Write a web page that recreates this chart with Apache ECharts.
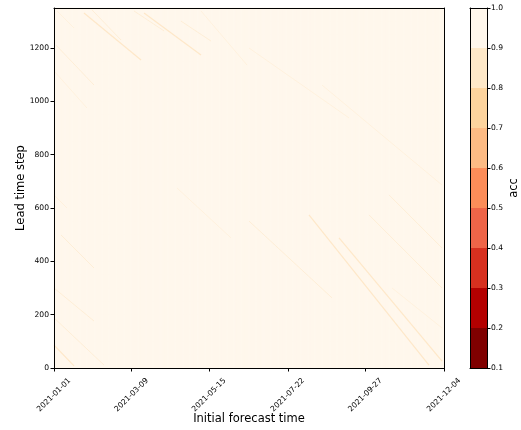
<!DOCTYPE html>
<html><head><meta charset="utf-8">
<script src="https://cdn.jsdelivr.net/npm/echarts@6/dist/echarts.min.js"></script>
<style>html,body{margin:0;padding:0;background:#fff}#c{width:521px;height:430px}</style>
</head><body><div id="c"></div>
<script>
// ---- data ----
const nDays = 337;              // initial forecast days from 2021-01-01
const leadMax = 1350;           // lead time steps shown
const leadBin = 50;             // lead steps per heatmap row
const baseAcc = 0.95;           // nearly uniform acc level over the field
const xTickDays = [0, 67, 134, 202, 269, 337];
const xTickLabels = ['2021-01-01', '2021-03-09', '2021-05-15', '2021-07-22', '2021-09-27', '2021-12-04'];
const yTicks = [0, 200, 400, 600, 800, 1000, 1200];
const cbLevels = [0.1, 0.2, 0.3, 0.4, 0.5, 0.6, 0.7, 0.8, 0.9, 1.0];
const cbColors = ['#7f0000', '#b30000', '#d7301f', '#ef6548', '#fc8d59', '#fdbb84', '#fdd49e', '#fee8c8', '#fff7ec'];
// diagonal streaks of lower acc: [day, lead] start and end, acc value
const streakStart = [[25.9,1331],[32.8,1343],[69.1,1339],[77.8,1331],[109.7,1301],[1.7,1211],[0,1114],[2.6,1339],[127.0,1339],
  [6.0,499],[0,300],[0,188],[0,86],[106.3,675],[0,649],[168.5,551],[220.3,574],[246.3,488],[272.2,574],[289.5,649],[292.1,300],[168.5,1200],[231.6,1061]];
const streakEnd = [[75.2,1155],[57.9,1230],[95.1,1264],[127.0,1174],[135.7,1226],[34.6,1061],[28.5,975],[17.3,1275],[166.8,1136],
  [34.6,375],[34.6,176],[43.2,11],[17.3,8],[152.9,488],[11.2,600],[240.2,263],[324.0,11],[335.3,26],[335.3,300],[335.3,450],[335.3,150],[254.9,938],[335.3,686]];
const streakAcc = [0.78,0.84,0.84,0.78,0.84,0.84,0.88,0.88,0.88,
  0.84,0.84,0.84,0.78,0.88,0.88,0.84,0.78,0.78,0.84,0.84,0.88,0.88,0.88];

// ---- build ----
const dayCats = Array.from({length: nDays}, (_, i) => i);
const leadCats = Array.from({length: leadMax / leadBin}, (_, i) => i * leadBin);
const heat = [];
for (let i = 0; i < dayCats.length; i++) for (let j = 0; j < leadCats.length; j++) heat.push([i, j, baseAcc]);
function accColor(v) {
  for (let k = 0; k < cbColors.length; k++) if (v < cbLevels[k + 1]) return cbColors[k];
  return cbColors[cbColors.length - 1];
}
const font = 'DejaVu Sans';
const tickLbl = {color: '#000', fontFamily: font, fontSize: 7.6};
const streakSeries = streakStart.map((s, k) => ({
  type: 'line', xAxisIndex: 1, yAxisIndex: 1, silent: true, symbol: 'none', animation: false,
  data: [s, streakEnd[k]],
  lineStyle: {color: accColor(streakAcc[k]), width: streakAcc[k] < 0.8 ? 1.2 : 1, opacity: streakAcc[k] < 0.8 ? 0.45 : (streakAcc[k] < 0.86 ? 0.6 : 0.4)}
}));
const cbData = cbColors.map((c, k) => [0, cbLevels[k], cbLevels[k + 1], k]);
const frame = {show: true, onZero: false, lineStyle: {color: '#000', width: 1}};

const chart = echarts.init(document.getElementById('c'), null, {renderer: 'canvas'});
chart.setOption({
  animation: false,
  backgroundColor: '#fff',
  grid: [
    {left: 54, top: 8, width: 390, height: 360},
    {left: 54, top: 8, width: 390, height: 360},
    {left: 470, top: 8, width: 18, height: 360}
  ],
  xAxis: [
    {type: 'category', gridIndex: 0, data: dayCats, show: false},
    {type: 'value', gridIndex: 1, min: 0, max: nDays, position: 'bottom', z: 10,
      axisLine: frame, splitLine: {show: false},
      axisTick: {show: true, length: 3.5, lineStyle: {color: '#000'}, customValues: xTickDays},
      axisLabel: Object.assign({rotate: 45, margin: 27, align: 'center', verticalAlign: 'middle', customValues: xTickDays,
        formatter: v => xTickLabels[xTickDays.indexOf(v)] || ''}, tickLbl),
      name: 'Initial forecast time', nameLocation: 'middle', nameGap: 45, nameMoveOverlap: false,
      nameTextStyle: {color: '#000', fontFamily: font, fontSize: 11.5}},
    {type: 'value', gridIndex: 1, min: 0, max: nDays, position: 'top', z: 10,
      axisLine: frame, axisTick: {show: false}, axisLabel: {show: false}, splitLine: {show: false}},
    {type: 'category', gridIndex: 2, data: [''], position: 'bottom', z: 10,
      axisLine: frame, axisTick: {show: false}, axisLabel: {show: false}},
    {type: 'category', gridIndex: 2, data: [''], position: 'top', z: 10,
      axisLine: frame, axisTick: {show: false}, axisLabel: {show: false}}
  ],
  yAxis: [
    {type: 'category', gridIndex: 0, data: leadCats, show: false},
    {type: 'value', gridIndex: 1, min: 0, max: leadMax, position: 'left', z: 10,
      axisLine: frame, splitLine: {show: false},
      axisTick: {show: true, length: 3.5, lineStyle: {color: '#000'}, customValues: yTicks},
      axisLabel: Object.assign({margin: 5, customValues: yTicks, formatter: v => String(v)}, tickLbl),
      name: 'Lead time step', nameLocation: 'middle', nameGap: 27, nameMoveOverlap: false,
      nameTextStyle: {color: '#000', fontFamily: font, fontSize: 11.5}},
    {type: 'value', gridIndex: 1, min: 0, max: leadMax, position: 'right', z: 10,
      axisLine: frame, axisTick: {show: false}, axisLabel: {show: false}, splitLine: {show: false}},
    {type: 'value', gridIndex: 2, min: 0.1, max: 1.0, position: 'right', z: 10,
      axisLine: frame, splitLine: {show: false},
      axisTick: {show: true, length: 3.5, lineStyle: {color: '#000'}, customValues: cbLevels},
      axisLabel: Object.assign({margin: 4, customValues: cbLevels, formatter: v => v.toFixed(1)}, tickLbl),
      name: 'acc', nameLocation: 'middle', nameGap: 21, nameRotate: 90,
      nameTextStyle: {color: '#000', fontFamily: font, fontSize: 11.5}},
    {type: 'value', gridIndex: 2, min: 0.1, max: 1.0, position: 'left', z: 10,
      axisLine: frame, axisTick: {show: false}, axisLabel: {show: false}, splitLine: {show: false}}
  ],
  visualMap: {
    type: 'piecewise', show: false, seriesIndex: 0, dimension: 2,
    pieces: cbColors.map((c, k) => ({gte: cbLevels[k], lt: k === cbColors.length - 1 ? 1.0001 : cbLevels[k + 1], color: c}))
  },
  series: [
    {type: 'heatmap', xAxisIndex: 0, yAxisIndex: 0, data: heat, silent: true, progressive: 0,
      itemStyle: {borderWidth: 0}},
    ...streakSeries,
    {type: 'custom', xAxisIndex: 3, yAxisIndex: 3, silent: true, data: cbData,
      renderItem: (params, api) => {
        const p0 = api.coord([api.value(0), api.value(1)]);
        const p1 = api.coord([api.value(0), api.value(2)]);
        const w = api.size([1, 0])[0];
        return {type: 'rect', shape: {x: p0[0] - w / 2, y: p1[1], width: w, height: p0[1] - p1[1]},
          style: {fill: cbColors[api.value(3)]}};
      }}
  ]
});
</script></body></html>
